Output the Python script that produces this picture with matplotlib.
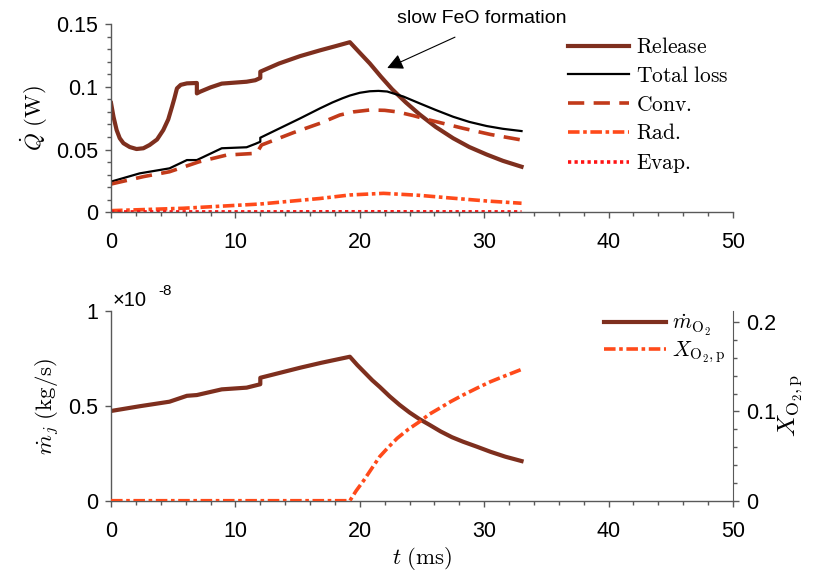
import numpy as np
import matplotlib.pyplot as plt
from matplotlib import font_manager

plt.rcParams['mathtext.fontset'] = 'cm'
avail = set(f.name for f in font_manager.fontManager.ttflist)
tickfont = 'Liberation Sans Narrow' if 'Liberation Sans Narrow' in avail else 'Liberation Sans'
plt.rcParams['font.family'] = [tickfont, 'DejaVu Sans']

# ---- top panel: heat rates (W) ----
t_rel = [0, 0.2, 0.45, 0.7, 1.0, 1.5, 2.05, 2.6, 3.1, 3.7, 4.2, 4.6, 4.9, 5.1, 5.3, 5.6, 6.1,
         6.9, 6.9, 7.15, 8.0, 8.9, 10.9, 11.6, 12.0, 12.0, 13.5, 15.2, 16.8, 18.0, 19.2, 20.0,
         20.8, 21.7, 22.6, 23.7, 24.8, 26.1, 27.5, 28.8, 30.2, 31.5, 33.0]
q_rel = [0.087, 0.076, 0.0655, 0.059, 0.055, 0.052, 0.0504, 0.051, 0.0536, 0.058, 0.0655, 0.074,
         0.084, 0.091, 0.0987, 0.1015, 0.1027, 0.103, 0.0947, 0.096, 0.0995, 0.1025, 0.104, 0.1052,
         0.107, 0.112, 0.1185, 0.1244, 0.129, 0.1322, 0.1355, 0.127, 0.1186, 0.108, 0.098, 0.0875,
         0.078, 0.068, 0.059, 0.052, 0.046, 0.041, 0.0363]

t_tot = [0, 2.3, 4.7, 6.1, 6.9, 8.9, 10.9, 11.6, 12.0, 12.0, 15.2, 16.8, 17.8, 18.6, 19.2, 20.0,
         20.8, 21.5, 22.2, 23.5, 24.8, 26.1, 27.5, 28.8, 30.2, 31.5, 33.0]
q_tot = [0.0244, 0.031, 0.035, 0.0416, 0.0416, 0.051, 0.0518, 0.0545, 0.0562, 0.0594, 0.0748,
         0.0828, 0.0875, 0.0908, 0.0930, 0.0952, 0.0964, 0.0967, 0.0962, 0.0922, 0.0868, 0.0815,
         0.0761, 0.072, 0.0687, 0.0665, 0.0647]

t_conv = [0, 2.6, 4.7, 7.1, 9.3, 11.7, 12.1, 14.65, 16.8, 18.4, 19.5, 20.8, 22.0, 23.0, 24.3,
          25.6, 28.3, 30.5, 33.0]
q_conv = [0.0225, 0.0284, 0.0323, 0.0403, 0.0456, 0.047, 0.0536, 0.0634, 0.0709, 0.0775, 0.0800,
          0.0815, 0.0812, 0.080, 0.077, 0.0735, 0.0669, 0.062, 0.0576]

t_rad = [0, 5.8, 12.0, 16.8, 19.2, 21.9, 24.8, 27.5, 30.2, 33.0]
q_rad = [0.0013, 0.0032, 0.0066, 0.011, 0.0138, 0.0151, 0.0135, 0.0112, 0.009, 0.0072]

t_evap = [0, 10, 20, 33]
q_evap = [0.0003, 0.0003, 0.0004, 0.0003]

# ---- bottom panel ----
t_mdot = [0, 2.3, 4.7, 6.1, 6.9, 8.9, 10.9, 12.0, 12.0, 15.2, 16.9, 19.2, 19.8, 20.4, 21.0, 21.6,
          22.4, 23.2, 24.0, 24.8, 25.6, 26.5, 27.4, 28.3, 29.4, 30.5, 31.7, 33.0]
mdot = [0.473, 0.498, 0.522, 0.553, 0.557, 0.587, 0.596, 0.614, 0.648, 0.701, 0.727, 0.759, 0.715,
        0.675, 0.635, 0.600, 0.55, 0.505, 0.465, 0.43, 0.40, 0.365, 0.335, 0.311, 0.285, 0.258,
        0.232, 0.209]   # x 1e-8 kg/s

t_x = [0, 19.2, 19.7, 20.3, 21.0, 21.6, 22.3, 23.0, 23.9, 24.8, 25.6, 26.4, 27.3, 28.3, 29.4,
       30.5, 31.7, 33.0]
x_o2 = [0, 0, 0.011, 0.0224, 0.037, 0.0494, 0.060, 0.0699, 0.080, 0.0885, 0.097, 0.1035, 0.111,
        0.1184, 0.126, 0.1333, 0.140, 0.1471]

c_rel = '#7e2f1e'
c_conv = '#c23a1a'
c_rad = '#ff4a1a'
c_evap = '#ff1414'
spine_c = '0.35'
fs = 15.5

fig = plt.figure(figsize=(8.14, 5.75), dpi=100)
ax1 = fig.add_axes([0.1364, 0.6308, 0.7641, 0.3275])
ax2 = fig.add_axes([0.1364, 0.1292, 0.7641, 0.3299])


def style(ax):
    ax.spines['top'].set_visible(False)
    ax.spines['right'].set_visible(False)
    for s in ax.spines.values():
        s.set_color(spine_c)
        s.set_linewidth(1.0)
    ax.tick_params(direction='out', which='major', length=4.5, width=1.0, color=spine_c,
                   labelsize=fs, labelcolor='black')
    ax.tick_params(direction='out', which='minor', length=3, width=1.0, color=spine_c)
    ax.tick_params(axis='x', which='major', pad=10)
    ax.tick_params(axis='y', which='major', pad=5)


# top
ax1.plot(t_rel, q_rel, color=c_rel, lw=3.0, label=r'$\mathrm{Release}$', solid_joinstyle='round')
ax1.plot(t_tot, q_tot, color='black', lw=1.6, label=r'$\mathrm{Total\ loss}$')
ax1.plot(t_conv, q_conv, color=c_conv, lw=2.6, dashes=(4.5, 2.6), label=r'$\mathrm{Conv.}$')
ax1.plot(t_rad, q_rad, color=c_rad, lw=2.6, dashes=(3.2, 1.0, 1.0, 1.0), label=r'$\mathrm{Rad.}$')
ax1.plot(t_evap, q_evap, color=c_evap, lw=2.6, dashes=(0.9, 0.9), label=r'$\mathrm{Evap.}$')
ax1.set_xlim(0, 50)
ax1.set_ylim(0, 0.15)
ax1.set_xticks([0, 10, 20, 30, 40, 50])
ax1.set_xticks(np.arange(0, 51, 2), minor=True)
ax1.set_yticks([0, 0.05, 0.1, 0.15])
ax1.set_yticklabels(['0', '0.05', '0.1', '0.15'])
ax1.set_yticks(np.arange(0, 0.151, 0.01), minor=True)
style(ax1)
ax1.set_ylabel(r'$\dot{Q}\ (\mathrm{W})$', fontsize=fs + 1, labelpad=4)
ax1.legend(loc='upper left', bbox_to_anchor=(0.71, 1.01), frameon=False, fontsize=fs,
           handlelength=2.85, handletextpad=0.3, labelspacing=0.36, borderaxespad=0.3)
ax1.text(29.8, 0.1547, 'slow FeO formation', fontsize=14, family='Liberation Sans',
         ha='center', va='center')
ax1.annotate('', xy=(22.2, 0.1149), xytext=(27.65, 0.1395),
             arrowprops=dict(arrowstyle='-|>', color='black', lw=0.8, mutation_scale=24,
                             shrinkA=0, shrinkB=0),
             annotation_clip=False)

# bottom
l1, = ax2.plot(t_mdot, mdot, color=c_rel, lw=3.0, label=r'$\dot{m}_{\mathrm{O}_2}$')
ax2.set_xlim(0, 50)
ax2.set_ylim(0, 1)
ax2.set_xticks([0, 10, 20, 30, 40, 50])
ax2.set_xticks(np.arange(0, 51, 2), minor=True)
ax2.set_yticks([0, 0.5, 1])
ax2.set_yticklabels(['0', '0.5', '1'])
style(ax2)
ax2.set_ylabel(r'$\dot{m}_j\ (\mathrm{kg/s})$', fontsize=fs + 1, labelpad=4)
ax2.set_xlabel(r'$t\ (\mathrm{ms})$', fontsize=fs + 1, labelpad=2)
ax2.text(0.003, 1.028, '\u00d710', transform=ax2.transAxes, fontsize=14.5, ha='left',
         va='baseline', family='Liberation Sans')
ax2.text(0.076, 1.085, '-8', transform=ax2.transAxes, fontsize=11, ha='left', va='baseline',
         family='Liberation Sans')

ax3 = ax2.twinx()
l2, = ax3.plot(t_x, x_o2, color=c_rad, lw=2.6, dashes=(3.2, 1.0, 1.0, 1.0),
               label=r'$X_{\mathrm{O}_2,\mathrm{p}}$')
ax3.set_ylim(0, 0.2125)
ax3.set_yticks([0, 0.1, 0.2])
ax3.set_yticklabels(['0', '0.1', '0.2'])
ax3.set_yticks(np.arange(0, 0.21, 0.02), minor=True)
ax3.spines['top'].set_visible(False)
ax3.spines['left'].set_visible(False)
ax3.spines['bottom'].set_visible(False)
ax3.spines['right'].set_color(spine_c)
ax3.tick_params(direction='out', which='major', length=4.5, width=1.0, color=spine_c,
                labelsize=fs, labelcolor='black', pad=5)
ax3.tick_params(direction='out', which='minor', length=3, width=1.0, color=spine_c)
ax3.set_ylabel(r'$X_{\mathrm{O}_2,\mathrm{p}}$', fontsize=fs + 3, labelpad=0, rotation=90)
ax3.legend([l1, l2], [l1.get_label(), l2.get_label()], loc='upper left',
           bbox_to_anchor=(0.762, 1.094), frameon=False, fontsize=fs,
           handlelength=2.85, handletextpad=0.3, labelspacing=0.1)

fig.savefig('out.png', dpi=100)
